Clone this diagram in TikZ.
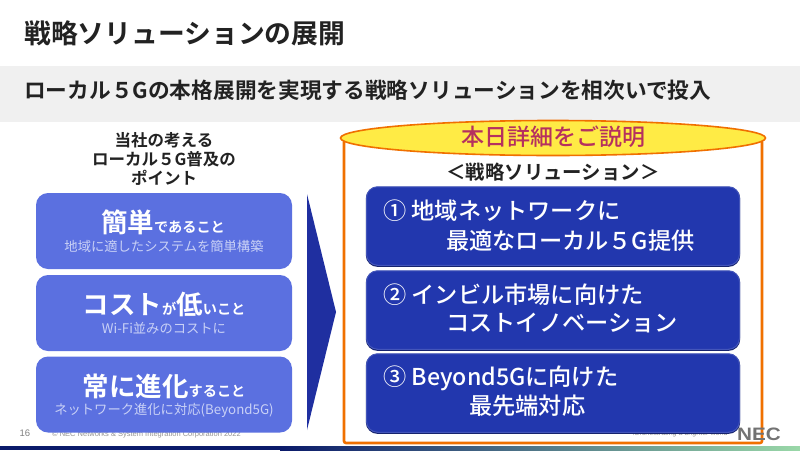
\documentclass[tikz,border=0pt]{standalone}
\usepackage{fontspec}
\setmainfont[BoldFont={Noto Sans CJK JP Medium}]{Noto Sans CJK JP}
\newfontfamily\heavyjp{Noto Sans CJK JP Bold}
\setsansfont{Liberation Sans}
\usepackage{xcolor}
\usetikzlibrary{positioning,shapes.geometric}
\definecolor{bandgray}{HTML}{F0F0F0}
\definecolor{ptfill}{HTML}{5B70E0}
\definecolor{ptsub}{HTML}{C9D1F6}
\definecolor{solblue}{HTML}{2237AE}
\definecolor{soledge}{HTML}{16236E}
\definecolor{darrow}{HTML}{1F2FA0}
\definecolor{hlorange}{HTML}{F07000}
\definecolor{hlyellow}{HTML}{FFEB45}
\definecolor{hltext}{HTML}{B5305F}
\definecolor{inkdark}{HTML}{222222}
\definecolor{barleft}{HTML}{0A1A6A}
\definecolor{barmid}{HTML}{2F7F93}
\definecolor{barright}{HTML}{9AD8A8}
\newcommand{\fsz}[1]{\fontsize{#1}{#1}\selectfont}
\newcommand{\bigch}[1]{{\fsz{26.5}\heavyjp #1}}
\newcommand{\smlch}[1]{{\fsz{14.2}\heavyjp #1}}

\begin{document}
\begin{tikzpicture}[
  x=1pt, y=-1pt,
  ptbox/.style={fill=ptfill, rounded corners=12pt, minimum width=256pt, minimum height=76pt},
  ptmain/.style={text=white, inner sep=0pt},
  ptnote/.style={text=ptsub, inner sep=0pt, font=\fsz{13.3}},
  solbox/.style={fill=solblue, draw=solblue!85!white, line width=1pt, rounded corners=11pt,
                 minimum width=373pt, minimum height=78.5pt,
                 preaction={draw=soledge, line width=1.4pt, transform canvas={yshift=-0.9pt}}},
  soltxt/.style={text=white, inner sep=0pt, anchor=west, font=\fsz{23.2}\bfseries},
  foot/.style={inner sep=0pt, text=gray!85, font=\sffamily\fsz{7.5}},
]
  \useasboundingbox (0,0) rectangle (800,450);
  \fill[white] (0,0) rectangle (800,450);

  % Footer
  \node[foot, text=gray, font=\sffamily\fsz{9.5}] (pageno) at (25,433.5) {16};
  \node[foot, anchor=west] (copy) at (52,434.5) {© NEC Networks \& System Integration Corporation 2022};
  \node[foot, anchor=east, font=\sffamily\itshape\fsz{7.1}] (slogan) at (728,434) {\textbackslash Orchestrating a brighter world};
  \fill[barleft] (0,446) rectangle (281,450);
  \shade[left color=barleft, middle color=barmid, right color=barright] (280,446) rectangle (800,450);

  % Title and band
  \node[inner sep=0pt, anchor=west, text=inkdark, font=\fsz{26.8}\heavyjp] (title) at (24,33)
    {戦略ソリューションの展開};
  \fill[bandgray] (0,66) rectangle (800,122);
  \node[inner sep=0pt, anchor=west, text=inkdark, font=\fsz{21.7}\heavyjp] (lead) at (24,90)
    {ローカル５Gの本格展開を実現する戦略ソリューションを相次いで投入};

  % Left column
  \node[inner sep=0pt, align=center, text=inkdark, font=\fontsize{16.5}{19.2}\selectfont\heavyjp] (head) at (164,159)
    {当社の考える\\ローカル５G普及の\\ポイント};
  \node[ptbox] (pt1) at (164,231) {};
  \node[ptbox] (pt2) at (164,313) {};
  \node[ptbox] (pt3) at (164,394.5) {};
  \node[ptmain] (pt1m) at (163,222) {\bigch{簡単}\smlch{であること}};
  \node[ptnote] (pt1n) at (164,246) {地域に適したシステムを簡単構築};
  \node[ptmain] (pt2m) at (164,304) {\bigch{コスト}\smlch{が}\bigch{低}\smlch{いこと}};
  \node[ptnote] (pt2n) at (164,328) {Wi-Fi並みのコストに};
  \node[ptmain] (pt3m) at (164,386) {\bigch{常に進化}\smlch{すること}};
  \node[ptnote] (pt3n) at (164,410) {ネットワーク進化に対応(Beyond5G)};

  % Big arrow
  \fill[darrow] (307,194) -- (336,312) -- (307,430) -- cycle;

  % Right frame
  \draw[hlorange, line width=2.6pt, rounded corners=2pt] (344,140) rectangle (762,443);
  \node[inner sep=0pt, anchor=west, xscale=1.15, text=gray!90!black, font=\sffamily\bfseries\fsz{18}] (nec) at (737,434) {NEC};
  \node[ellipse, draw=hlorange, fill=hlyellow, line width=1.6pt, minimum width=425pt, minimum height=35pt, inner sep=0pt] (today) at (553,138) {};
  \node[inner sep=0pt, text=hltext, font=\fsz{23}\bfseries] (todayt) at (553,137) {本日詳細をご説明};
  \node[inner sep=0pt, text=inkdark, font=\fsz{19.4}\heavyjp] (solhead) at (553,172) {＜戦略ソリューション＞};

  \node[solbox] (sol1) at (553,226) {};
  \node[solbox] (sol2) at (553,310) {};
  \node[solbox] (sol3) at (553,393) {};
  \node[soltxt] (sol1a) at (383,211) {① 地域ネットワークに};
  \node[soltxt] (sol1b) at (446,241) {最適なローカル５G提供};
  \node[soltxt] (sol2a) at (383,295) {② インビル市場に向けた};
  \node[soltxt] (sol2b) at (446,323) {コストイノベーション};
  \node[soltxt] (sol3a) at (383,378) {③ Beyond5Gに向けた};
  \node[soltxt] (sol3b) at (469,406) {最先端対応};
\end{tikzpicture}
\end{document}
